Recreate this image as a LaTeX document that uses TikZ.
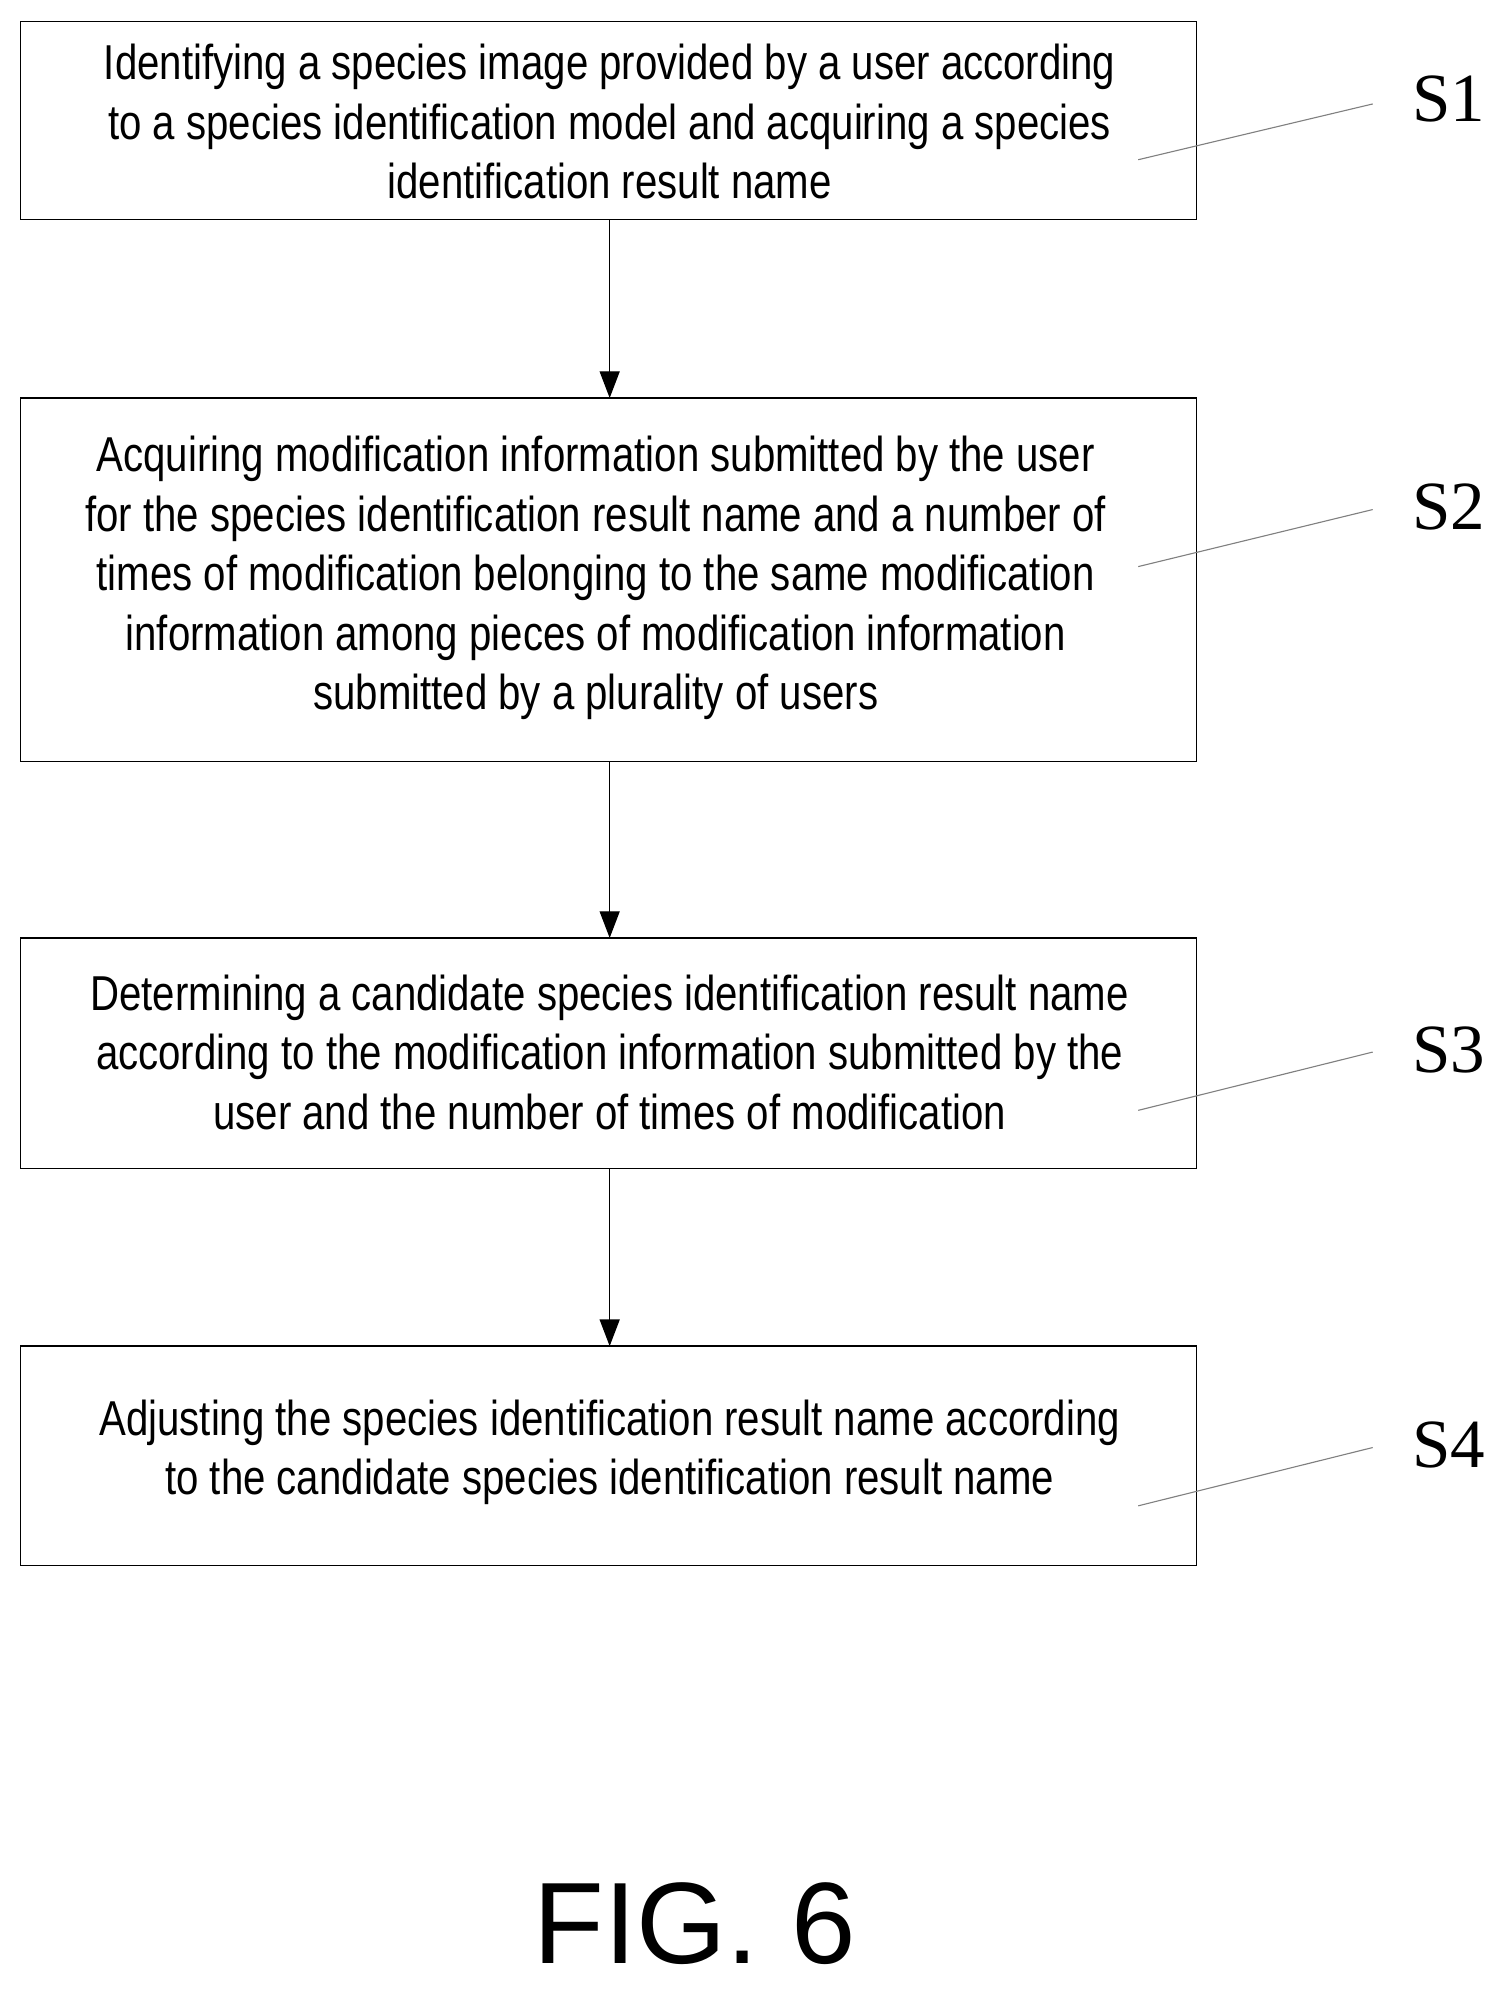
\documentclass[tikz,border=0pt]{standalone}
\usepackage{fontspec}
\setmainfont{Liberation Serif}
\newfontfamily\boxfont[FakeStretch=0.82]{Liberation Sans}
\newfontfamily\figfont{Liberation Sans}
\usetikzlibrary{arrows.meta}
\begin{document}
\begin{tikzpicture}[x=0.02cm,y=-0.02cm,
  stepbox/.style={draw,line width=0.6pt},
  txt/.style={align=center,font=\boxfont\fontsize{22}{26.7}\selectfont},
  lab/.style={font=\fontsize{31}{31}\selectfont},
  lead/.style={draw=gray,line width=0.5pt},
  arr/.style={-{Triangle[length=12pt,width=9pt]},line width=0.6pt}]
\useasboundingbox (0,0) rectangle (1190,1570);
\draw[stepbox] (16,17) rectangle (944,173);
\draw[stepbox] (16,314) rectangle (944,601);
\draw[stepbox] (16,740) rectangle (944,922);
\draw[stepbox] (16,1062) rectangle (944,1235);
\node[txt] (t1) at (481,96) {Identifying a species image provided by a user according\\to a species identification model and acquiring a species\\identification result name};
\node[txt] (t2) at (470,456) {Acquiring modification information submitted by the user\\for the species identification result name and a number of\\times of modification belonging to the same modification\\information among pieces of modification information\\submitted by a plurality of users};
\node[txt] (t3) at (481,830) {Determining a candidate species identification result name\\according to the modification information submitted by the\\user and the number of times of modification};
\node[txt] (t4) at (481,1146) {Adjusting the species identification result name according\\to the candidate species identification result name};
\coordinate (a1) at (481,173); \coordinate (b2) at (481,314);
\coordinate (a2) at (481,601); \coordinate (b3) at (481,740);
\coordinate (a3) at (481,922); \coordinate (b4) at (481,1062);
\draw[arr] (a1) -- (b2);
\draw[arr] (a2) -- (b3);
\draw[arr] (a3) -- (b4);
\node[lab] (s1) at (1143,78) {S1};
\node[lab] (s2) at (1143,400) {S2};
\node[lab] (s3) at (1143,828) {S3};
\node[lab] (s4) at (1143,1140) {S4};
\coordinate (l1) at (898,126); \coordinate (r1) at (1083,82);
\coordinate (l2) at (898,447); \coordinate (r2) at (1083,402);
\coordinate (l3) at (898,876); \coordinate (r3) at (1083,830);
\coordinate (l4) at (898,1188); \coordinate (r4) at (1083,1142);
\draw[lead] (l1) -- (r1); \draw[lead] (l2) -- (r2);
\draw[lead] (l3) -- (r3); \draw[lead] (l4) -- (r4);
\node[font=\figfont\fontsize{52}{52}\selectfont] (fig) at (548,1518) {FIG. 6};
\end{tikzpicture}
\end{document}
